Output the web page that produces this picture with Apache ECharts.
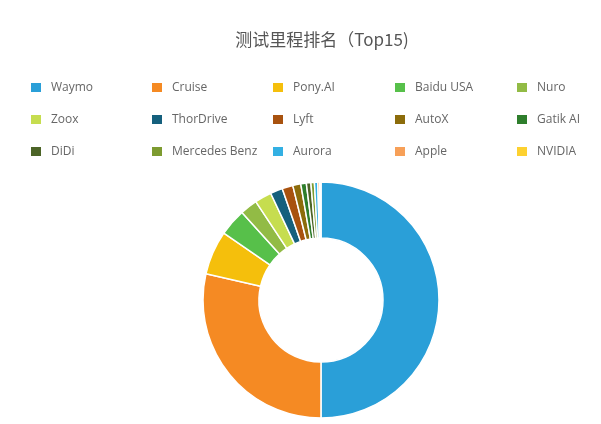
<!DOCTYPE html>
<html>
<head>
<meta charset="utf-8">
<script src="https://cdn.jsdelivr.net/npm/echarts@6/dist/echarts.min.js"></script>
<style>
  html, body { margin: 0; padding: 0; background: #fff; }
  #main { width: 601px; height: 424px; }
</style>
</head>
<body>
<div id="main"></div>
<script>
// 公司名称（按里程排序）
const companies = ['Waymo', 'Cruise', 'Pony.AI', 'Baidu USA', 'Nuro',
    'Zoox', 'ThorDrive', 'Lyft', 'AutoX', 'Gatik AI',
    'DiDi', 'Mercedes Benz', 'Aurora', 'Apple', 'NVIDIA'];
// 测试里程（英里，按图估读）
const miles = [1454000, 831000, 175000, 108000, 68800,
    67000, 49000, 43000, 32000, 22000,
    18000, 14000, 13400, 7500, 5000];
const colors = ['#2a9fd8', '#f58a23', '#f5bf0c', '#57c04a', '#92bb45',
    '#c6dd4f', '#15607d', '#a8520f', '#8c6c0b', '#2e7e2c',
    '#4c6427', '#7d9b30', '#33b0e3', '#f7a058', '#fdd130'];

const chart = echarts.init(document.getElementById('main'));

// 图例分5列，每列3个
const colX = [24, 145, 266, 388, 510];
const legends = colX.map((x, i) => ({
    orient: 'vertical',
    left: x,
    top: 76,
    itemWidth: 12,
    itemHeight: 11,
    itemGap: 19,
    icon: 'rect',
    selectedMode: false,
    data: [companies[i], companies[i + 5], companies[i + 10]],
    textStyle: { color: '#666', fontSize: 12, fontFamily: 'Open Sans', padding: [0, 0, 0, 4], lineHeight: 13 }
}));

const option = {
    color: colors,
    title: {
        text: '测试里程排名（Top15)',
        left: 317,
        textAlign: 'center',
        top: 26,
        textStyle: { color: '#555', fontSize: 17, fontWeight: 'normal', fontFamily: 'Noto Sans CJK SC' }
    },
    legend: legends,
    series: [{
        type: 'pie',
        center: [321, 300],
        radius: [62, 118],
        startAngle: 90,
        label: { show: false },
        labelLine: { show: false },
        itemStyle: { borderColor: '#fff', borderWidth: 1.5 },
        emphasis: { disabled: true },
        animation: false,
        data: companies.map((name, i) => ({ name: name, value: miles[i] }))
    }]
};
chart.setOption(option);
</script>
</body>
</html>
